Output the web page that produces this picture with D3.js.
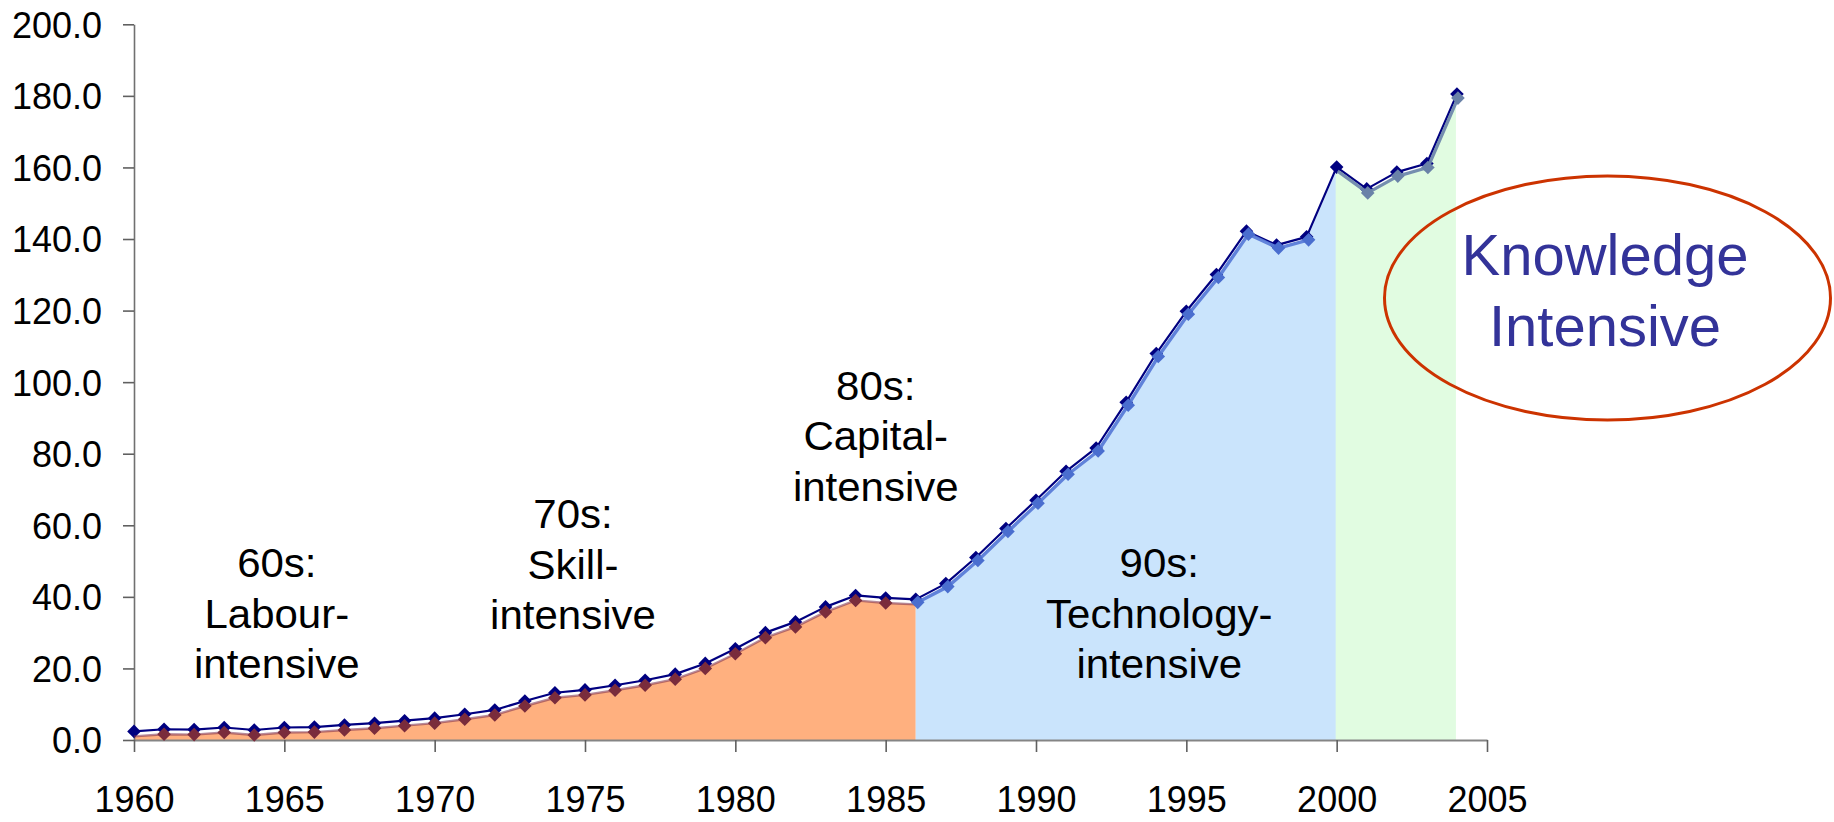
<!DOCTYPE html>
<html>
<head>
<meta charset="utf-8">
<script src="https://cdn.jsdelivr.net/npm/d3@7"></script>
<style>
  html, body { margin: 0; padding: 0; background: #ffffff; }
  svg { display: block; }
  text { font-family: "Liberation Sans", Arial, sans-serif; }
</style>
</head>
<body>
<svg id="chart" width="1834" height="822"></svg>
<script>
// ---- data ----
const years = [1960,1961,1962,1963,1964,1965,1966,1967,1968,1969,
               1970,1971,1972,1973,1974,1975,1976,1977,1978,1979,
               1980,1981,1982,1983,1984,1985,1986,1987,1988,1989,
               1990,1991,1992,1993,1994,1995,1996,1997,1998,1999,
               2000,2001,2002,2003,2004];
const values = [2.4,3.0,2.9,3.5,2.8,3.5,3.6,4.2,4.7,5.4,
                6.1,7.2,8.4,10.9,13.2,14.0,15.3,16.7,18.4,21.4,
                25.5,30.0,33.0,37.2,40.4,39.7,39.3,43.7,51.0,59.1,
                67.0,75.1,81.6,94.4,108.0,119.8,130.1,142.2,138.3,140.6,
                160.1,154.0,158.7,161.1,180.5];
const xTicks = [1960,1965,1970,1975,1980,1985,1990,1995,2000,2005];
const yTicks = [0,20,40,60,80,100,120,140,160,180,200];
const eras = [
  { from: 1960, to: 1986 },
  { from: 1986, to: 2000 },
  { from: 2000, to: 2004 }
];
const eraLabels = [
  ["60s:", "Labour-", "intensive"],
  ["70s:", "Skill-", "intensive"],
  ["80s:", "Capital-", "intensive"],
  ["90s:", "Technology-", "intensive"]
];
const eraLabelYears = [1964.75, 1974.6, 1984.67, 1994.1];
const eraLabelValues = [17.3, 31.0, 66.9, 17.3];   // value level of last line's baseline
const bubbleLines = ["Knowledge", "Intensive"];

// ---- styles ----
const fillColors = ["#FFB07F", "#CAE4FC", "#E1FCE1"];
const overlayMarker = ["#7A2C3C", "#4A6ECF", "#6A82A8"];
const overlayLine = ["#7A2C4C", "#5A7CD8", "#6F88AC"];
const overlayWidth = [2.4, 3.4, 3.2];
const navy = "#000080";

const W = 1834, H = 822;
const svg = d3.select("#chart");
svg.append("rect").attr("width", W).attr("height", H).attr("fill", "#fff");

const x = d3.scaleLinear().domain([1960, 2005]).range([134, 1487]);
const y = d3.scaleLinear().domain([0, 200]).range([740, 24.3]);

const data = years.map((yr, i) => ({ yr, v: values[i] }));
const seg = (a, b) => data.filter(d => d.yr >= a && d.yr <= b);

// overlay offsets (the shaded copy sits slightly lower than the main series)
const offs = [{dx: 0, dy: 5}, {dx: 2, dy: 3}, {dx: 1, dy: 4}];

// ---- area fills ----
eras.forEach((e, i) => {
  const o = offs[i];
  const area = d3.area()
    .x(d => x(d.yr) + o.dx - (i === 0 ? 0 : 2))
    .y0(y(0))
    .y1(d => Math.min(y(d.v) + o.dy, y(0)));
  svg.append("path")
    .datum(seg(e.from, e.to))
    .attr("d", area)
    .attr("fill", fillColors[i]);
});

// ---- axes ----
const yAxis = d3.axisLeft(y).tickValues(yTicks).tickFormat(d3.format(".1f"))
  .tickSize(11).tickSizeOuter(0).tickPadding(21);
const gy = svg.append("g").attr("transform", `translate(${x(1960)},0)`).call(yAxis);
gy.select(".domain").attr("stroke", "#707070").attr("stroke-width", 1.6);
gy.selectAll(".tick line").attr("stroke", "#606060").attr("stroke-width", 1.6);
gy.selectAll(".tick text").attr("font-size", 36).attr("fill", "#000")
  .attr("font-family", "Liberation Sans, Arial, sans-serif").attr("dy", "0.36em");

const xAxis = d3.axisBottom(x).tickValues(xTicks).tickFormat(d3.format("d"))
  .tickSize(12).tickSizeOuter(0).tickPadding(34);
const gx = svg.append("g").attr("transform", `translate(0,${y(0)})`).call(xAxis);
gx.select(".domain").attr("stroke", "#858585").attr("stroke-width", 2.2);
gx.selectAll(".tick line").attr("stroke", "#606060").attr("stroke-width", 1.6);
gx.selectAll(".tick text").attr("font-size", 36).attr("fill", "#000")
  .attr("font-family", "Liberation Sans, Arial, sans-serif");

// ---- main series ----
const line = d3.line().x(d => x(d.yr)).y(d => y(d.v));
svg.append("path").datum(data).attr("d", line)
  .attr("fill", "none").attr("stroke", navy).attr("stroke-width", 2.2)
  .attr("stroke-linejoin", "round");

const diamond = r => `M0,${-r}L${r},0L0,${r}L${-r},0Z`;
svg.append("g").selectAll("path").data(data).join("path")
  .attr("transform", d => `translate(${x(d.yr)},${y(d.v)})`)
  .attr("d", diamond(6.8))
  .attr("fill", navy);

// ---- shaded overlay copies per era ----
const overlayLineRanges = [[1960, 1986], [1986, 1999], [2000, 2004]];
const overlayMarkRanges = [[1961, 1985], [1986, 1999], [2001, 2004]];
eras.forEach((e, i) => {
  const o = offs[i];
  const g = svg.append("g").attr("transform", `translate(${o.dx},${o.dy})`);
  g.append("path").datum(seg(overlayLineRanges[i][0], overlayLineRanges[i][1]))
    .attr("d", line).attr("fill", "none")
    .attr("stroke", overlayLine[i]).attr("stroke-width", overlayWidth[i])
    .attr("stroke-linejoin", "round")
    .attr("stroke-opacity", i === 0 ? 0.55 : 0.95);
  g.selectAll("path.m").data(seg(overlayMarkRanges[i][0], overlayMarkRanges[i][1]))
    .join("path").attr("class", "m")
    .attr("transform", d => `translate(${x(d.yr)},${y(d.v)})`)
    .attr("d", diamond(6.8))
    .attr("fill", overlayMarker[i]);
});

// ---- era annotations ----
const lineGap = 50.5;
eraLabels.forEach((lines, i) => {
  const cx = x(eraLabelYears[i]);
  const lastBase = y(eraLabelValues[i]);
  lines.forEach((t, j) => {
    const by = lastBase - (lines.length - 1 - j) * lineGap;
    svg.append("g").attr("transform", `translate(${cx},${by}) scale(1,0.95)`)
      .append("text").attr("text-anchor", "middle")
      .attr("font-size", 42).attr("fill", "#000").text(t);
  });
});

// ---- Knowledge Intensive bubble ----
svg.append("ellipse")
  .attr("cx", 1607.5).attr("cy", 298).attr("rx", 223).attr("ry", 122)
  .attr("fill", "none").attr("stroke", "#CC3300").attr("stroke-width", 3);
bubbleLines.forEach((t, j) => {
  svg.append("text").attr("x", 1605).attr("y", 275 + j * 71)
    .attr("text-anchor", "middle").attr("font-size", 58)
    .attr("fill", "#333399").text(t);
});
</script>
</body>
</html>
